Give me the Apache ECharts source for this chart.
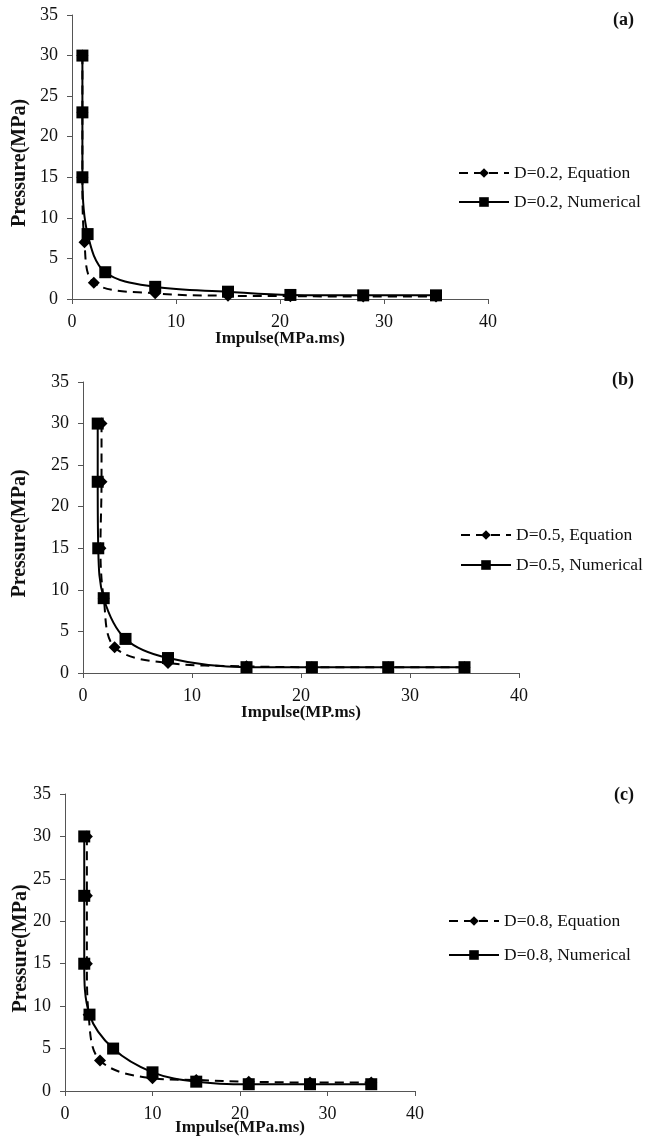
<!DOCTYPE html>
<html>
<head>
<meta charset="utf-8">
<script src="https://cdn.jsdelivr.net/npm/echarts@6/dist/echarts.min.js"></script>
<style>
html,body{margin:0;padding:0;background:#fff;}
#chart{width:653px;height:1137px;}
</style>
</head>
<body>
<div id="chart"></div>
<script>
// Panel (a) D=0.2
const aEqX  = [1.0, 1.0, 1.0, 1.2, 2.1, 8, 15, 21, 28, 35];
const aEqY  = [30, 23, 15, 7, 2, 0.7, 0.4, 0.35, 0.3, 0.3];
const aNumX = [1.0, 1.0, 1.0, 1.5, 3.2, 8, 15, 21, 28, 35];
const aNumY = [30, 23, 15, 8, 3.3, 1.5, 0.9, 0.5, 0.45, 0.45];
// Panel (b) D=0.5
const bEqX  = [1.7, 1.7, 1.6, 1.9, 2.9, 7.8, 15, 21, 28, 35];
const bEqY  = [30, 23, 15, 9, 3.1, 1.2, 0.8, 0.7, 0.7, 0.7];
const bNumX = [1.35, 1.35, 1.4, 1.9, 3.9, 7.8, 15, 21, 28, 35];
const bNumY = [30, 23, 15, 9, 4.1, 1.8, 0.7, 0.7, 0.7, 0.7];
// Panel (c) D=0.8
const cEqX  = [2.5, 2.5, 2.5, 2.7, 4, 10, 15, 21, 28, 35];
const cEqY  = [30, 23, 15, 9, 3.6, 1.5, 1.3, 1.1, 1.0, 1.0];
const cNumX = [2.2, 2.2, 2.2, 2.8, 5.5, 10, 15, 21, 28, 35];
const cNumY = [30, 23, 15, 9, 5, 2.2, 1.1, 0.8, 0.8, 0.8];

const panelLabels = ['(a)', '(b)', '(c)'];
const seriesNames = [
  ['D=0.2, Equation', 'D=0.2, Numerical'],
  ['D=0.5, Equation', 'D=0.5, Numerical'],
  ['D=0.8, Equation', 'D=0.8, Numerical']
];
const xNames = ['Impulse(MPa.ms)', 'Impulse(MP.ms)', 'Impulse(MPa.ms)'];
const yName = 'Pressure(MPa)';

const zip = (xs, ys) => xs.map((x, i) => [x, ys[i]]);
const FONT = '"Liberation Serif", "Times New Roman", serif';

const grids = [
  {left: 72, top: 15, width: 416, height: 284},
  {left: 83, top: 382, width: 436, height: 291},
  {left: 65, top: 794, width: 350, height: 297}
];
const yGaps = [42, 53, 34];
const xGaps = [31, 31, 28];
const legendPos = [
  {left: 453, top: 159},
  {left: 455, top: 521},
  {left: 443, top: 907}
];
const legendGaps = [11, 12, 16];
const titleTops = [6, 366, 781];

const axisLine = {show: true, lineStyle: {color: '#555', width: 1}};
const axisTick = {show: true, inside: false, length: 5, lineStyle: {color: '#555'}};

const xAxes = [], yAxes = [], series = [], legends = [], titles = [];
const data = [
  [zip(aEqX, aEqY), zip(aNumX, aNumY)],
  [zip(bEqX, bEqY), zip(bNumX, bNumY)],
  [zip(cEqX, cEqY), zip(cNumX, cNumY)]
];

for (let i = 0; i < 3; i++) {
  xAxes.push({
    type: 'value', gridIndex: i, min: 0, max: 40, interval: 10,
    name: xNames[i], nameLocation: 'middle', nameGap: xGaps[i], nameMoveOverlap: false,
    nameTextStyle: {fontFamily: FONT, fontWeight: 'bold', fontSize: 17, color: '#111'},
    axisLine, axisTick, splitLine: {show: false},
    axisLabel: {fontFamily: FONT, fontSize: 18, color: '#111', margin: 14}
  });
  yAxes.push({
    type: 'value', gridIndex: i, min: 0, max: 35, interval: 5,
    name: yName, nameLocation: 'middle', nameGap: yGaps[i], nameRotate: 90, nameMoveOverlap: false,
    nameTextStyle: {fontFamily: FONT, fontWeight: 'bold', fontSize: 20, color: '#111', padding: [0, 12, 0, 0]},
    axisLine, axisTick, splitLine: {show: false},
    axisLabel: {fontFamily: FONT, fontSize: 18, color: '#111', margin: 14}
  });
  series.push({
    name: seriesNames[i][0], type: 'line', xAxisIndex: i, yAxisIndex: i,
    data: data[i][0], smooth: 0.35, symbol: 'diamond', symbolSize: 12,
    lineStyle: {color: '#000', width: 2, type: [9, 6]},
    itemStyle: {color: '#000'}, z: 2
  });
  series.push({
    name: seriesNames[i][1], type: 'line', xAxisIndex: i, yAxisIndex: i,
    data: data[i][1], smooth: 0.35, symbol: 'rect', symbolSize: 12,
    lineStyle: {color: '#000', width: 2, type: 'solid'},
    itemStyle: {color: '#000'}, z: 3
  });
  legends.push({
    data: seriesNames[i], orient: 'vertical',
    left: legendPos[i].left, top: legendPos[i].top,
    itemWidth: 50, itemHeight: 12, itemGap: legendGaps[i],
    textStyle: {fontFamily: FONT, fontSize: 17.5, color: '#111'},
    selectedMode: false
  });
  titles.push({
    text: panelLabels[i], right: 14, top: titleTops[i],
    textStyle: {fontFamily: FONT, fontWeight: 'bold', fontSize: 18, color: '#111'}
  });
}

const chart = echarts.init(document.getElementById('chart'), null, {renderer: 'canvas'});
chart.setOption({
  backgroundColor: '#fff',
  animation: false,
  title: titles,
  grid: grids.map(g => Object.assign({containLabel: false, outerBoundsMode: 'none'}, g)),
  xAxis: xAxes,
  yAxis: yAxes,
  legend: legends,
  series: series
});
</script>
</body>
</html>
